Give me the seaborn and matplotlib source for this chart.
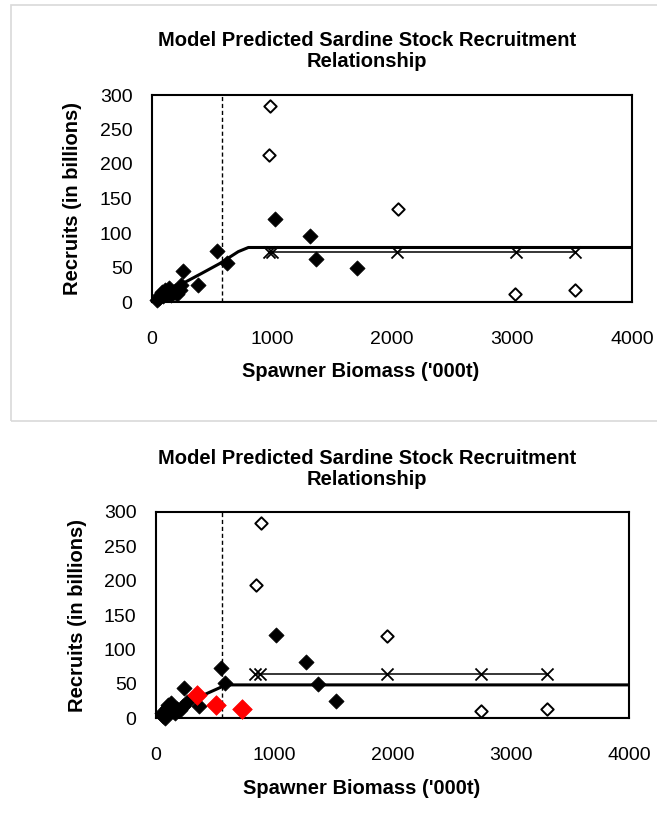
import seaborn as sns
import matplotlib.pyplot as plt
import matplotlib.patches as patches

# ---- top panel data ----
top_filled_x = [40, 55, 70, 80, 95, 110, 125, 140, 160, 175, 190, 210, 230, 245,
                258, 386, 542, 628, 1025, 1314, 1364, 1708]
top_filled_y = [3, 6, 10, 14, 8, 18, 12, 20, 10, 15, 16, 12, 18, 24,
                45, 25, 74, 57, 120, 95, 63, 50]
top_open_x = [985, 975, 2050, 3025, 3525]
top_open_y = [284, 213, 135, 12, 18]
top_cross_x = [975, 1000, 2040, 3030, 3525]
top_cross_y = [72, 72, 72, 72, 72]
top_model_x = [0, 100, 200, 290, 414, 567, 719, 803, 4000]
top_model_y = [0, 12, 22, 30, 41.5, 56, 73, 79, 79]
top_blim = 581

# ---- bottom panel data ----
bot_filled_x = [50, 60, 76, 90, 105, 127, 140, 160, 180, 200, 230, 260,
                237, 364, 547, 583, 1012, 1265, 1367, 1519]
bot_filled_y = [8, 3, 1, 15, 20, 22, 10, 8, 14, 12, 18, 23,
                44.5, 18.4, 73.5, 50.7, 120.5, 82, 49.8, 25.6]
bot_red_x = [344, 507, 730]
bot_red_y = [33.8, 19.3, 13.5]
bot_open_x = [888, 843, 1953, 2748, 3304]
bot_open_y = [283, 193.5, 120, 11, 14]
bot_cross_x = [837, 880, 1953, 2748, 3304]
bot_cross_y = [65, 65, 65, 65, 65]
bot_model_x = [0, 100, 250, 430, 560, 583, 4000]
bot_model_y = [0, 8, 22, 36, 46, 48.5, 48.5]
bot_blim = 556

zero_x = [0, 4000]
zero_y = [0, 0]

x_ticks = [0, 1000, 2000, 3000, 4000]
y_ticks = [0, 50, 100, 150, 200, 250, 300]

TITLE = 'Model Predicted Sardine Stock Recruitment\nRelationship'
XLABEL = "Spawner Biomass ('000t)"
YLABEL = 'Recruits (in billions)'


def draw_panel(ax, filled, opened, crosses, model, blim, red=None,
               xpad=17, xlab_y=-0.29):
    sns.lineplot(x=zero_x, y=zero_y, ax=ax, color='black', linewidth=2.2,
                 estimator=None, sort=False)
    sns.lineplot(x=model[0], y=model[1], ax=ax, color='black', linewidth=2.2,
                 estimator=None, sort=False)
    sns.lineplot(x=crosses[0], y=crosses[1], ax=ax, color='black', linewidth=1.1,
                 estimator=None, sort=False)
    sns.scatterplot(x=crosses[0], y=crosses[1], ax=ax, marker='x', s=75,
                    color='black', linewidth=1.3, zorder=4)
    ax.axvline(blim, color='black', linestyle=(0, (3, 2)), linewidth=1)
    sns.scatterplot(x=filled[0], y=filled[1], ax=ax, marker='D', s=60,
                    color='black', edgecolor='black', linewidth=0.5,
                    zorder=5, clip_on=False)
    sns.scatterplot(x=opened[0], y=opened[1], ax=ax, marker='D', s=40,
                    facecolor='white', edgecolor='black', linewidth=1.4,
                    zorder=5, clip_on=False)
    if red is not None:
        sns.scatterplot(x=red[0], y=red[1], ax=ax, marker='D', s=100,
                        color='#ff0000', edgecolor='#ff0000', linewidth=0.5,
                        zorder=6, clip_on=False)

    ax.set_xlim(0, 4000)
    ax.set_ylim(0, 300)
    ax.set_xticks(x_ticks)
    ax.set_yticks(y_ticks)
    ax.tick_params(axis='both', direction='out', length=4, width=1,
                   labelsize=14, color='black', labelcolor='black')
    ax.tick_params(axis='x', pad=xpad)
    ax.tick_params(axis='y', pad=10)
    for sp in ax.spines.values():
        sp.set_visible(True)
        sp.set_color('black')
        sp.set_linewidth(1.5)
    ax.set_xlabel(XLABEL, fontsize=14.5, fontweight='bold', color='black')
    ax.set_ylabel(YLABEL, fontsize=14.5, fontweight='bold', color='black')
    ax.xaxis.set_label_coords(0.435, xlab_y)
    ax.yaxis.set_label_coords(-0.145, 0.5)


sns.set_style("white")
plt.rcParams['font.family'] = ['Liberation Sans', 'DejaVu Sans']
plt.rcParams['text.color'] = 'black'

fig = plt.figure(figsize=(6.57, 8.33), dpi=100)

# light chart-area border around the top chart
fig.patches.append(patches.Rectangle((11 / 657, 1 - 421 / 833), 1.0, 416 / 833,
                                     transform=fig.transFigure, fill=False,
                                     edgecolor='#d9d9d9', linewidth=1.2))

ax1 = fig.add_axes([152 / 657, 1 - 302 / 833, 480 / 657, 207 / 833])
ax2 = fig.add_axes([156 / 657, 1 - 718.3 / 833, 473 / 657, 206.6 / 833])

draw_panel(ax1, (top_filled_x, top_filled_y), (top_open_x, top_open_y),
           (top_cross_x, top_cross_y), (top_model_x, top_model_y), top_blim,
           xpad=17, xlab_y=-0.29)
draw_panel(ax2, (bot_filled_x, bot_filled_y), (bot_open_x, bot_open_y),
           (bot_cross_x, bot_cross_y), (bot_model_x, bot_model_y), bot_blim,
           red=(bot_red_x, bot_red_y), xpad=17, xlab_y=-0.294)

fig.text(367 / 657, 1 - 51 / 833, TITLE, ha='center', va='center',
         fontsize=14.5, fontweight='bold', linespacing=1.15)
fig.text(367 / 657, 1 - 469 / 833, TITLE, ha='center', va='center',
         fontsize=14.5, fontweight='bold', linespacing=1.15)

plt.savefig('out.png', dpi=100)
